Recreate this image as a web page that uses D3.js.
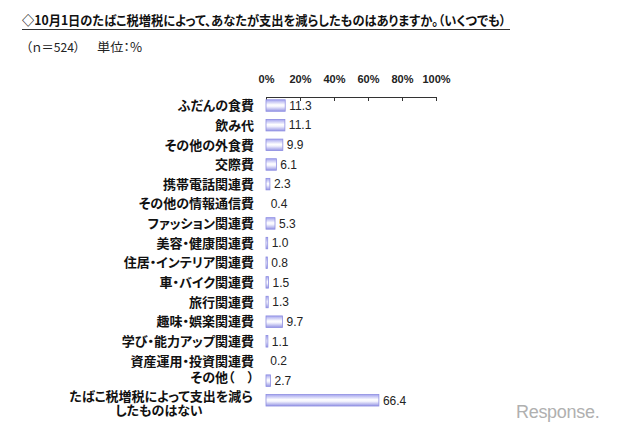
<!DOCTYPE html>
<html><head><meta charset="utf-8">
<script src="https://cdn.jsdelivr.net/npm/d3@7"></script>
<style>
html,body{margin:0;padding:0;background:#fff;}
svg{display:block;}
.jp{font-family:'Noto Sans CJK JP',sans-serif;font-feature-settings:"palt" 1;}
</style></head>
<body>
<script>
const categories = ["ふだんの食費","飲み代","その他の外食費","交際費","携帯電話関連費","その他の情報通信費","ファッション関連費","美容・健康関連費","住居・インテリア関連費","車・バイク関連費","旅行関連費","趣味・娯楽関連費","学び・能力アップ関連費","資産運用・投資関連費","その他（　）","たばこ税増税によって支出を減らしたものはない"];
const values = [11.3,11.1,9.9,6.1,2.3,0.4,5.3,1.0,0.8,1.5,1.3,9.7,1.1,0.2,2.7,66.4];
const tickValues = [0,20,40,60,80,100];
const tickLabels = ["0%","20%","40%","60%","80%","100%"];
const titleText = "◇10月1日のたばこ税増税によって、あなたが支出を減らしたものはありますか。（いくつでも）";
const subtitleN = "（ｎ＝524）";
const subtitleUnit = "単位：%";

const W = 640, H = 435;
const svg = d3.select("body").append("svg").attr("width", W).attr("height", H);

const defs = svg.append("defs");
const grad = defs.append("linearGradient").attr("id","barGrad").attr("x1",0).attr("y1",0).attr("x2",0).attr("y2",1);
grad.append("stop").attr("offset","0%").attr("stop-color","#a4a4ee");
grad.append("stop").attr("offset","45%").attr("stop-color","#ffffff");
grad.append("stop").attr("offset","60%").attr("stop-color","#f2f2fd");
grad.append("stop").attr("offset","100%").attr("stop-color","#9595e4");

const latin = "'Liberation Sans', Arial, sans-serif";

// Title
svg.append("text").attr("class","jp").attr("x",22).attr("y",25)
  .attr("font-weight","bold").attr("font-size",13)
  .attr("textLength",484).attr("lengthAdjust","spacingAndGlyphs")
  .attr("fill","#111").text(titleText);
svg.append("line").attr("x1",22).attr("x2",510).attr("y1",29.5).attr("y2",29.5)
  .attr("stroke","#333").attr("stroke-width",1);

svg.append("text").attr("class","jp").attr("x",26).attr("y",52)
  .attr("font-size",12.5).attr("fill","#222")
  .attr("textLength",54).attr("lengthAdjust","spacingAndGlyphs").text(subtitleN);
svg.append("text").attr("class","jp").attr("x",97).attr("y",52)
  .attr("font-size",12.5).attr("fill","#222")
  .attr("textLength",45).attr("lengthAdjust","spacingAndGlyphs").text(subtitleUnit);

const x = d3.scaleLinear().domain([0,100]).range([266,436]);
const y = d3.scaleBand().domain(categories).range([95.7, 95.7 + 16*19.65]).padding(0);
const barH = 11.5;

// Axis
const axis = d3.axisTop(x).tickValues(tickValues).tickFormat((d,i)=>tickLabels[i])
  .tickSizeInner(-4).tickSizeOuter(0).tickPadding(14);
const ag = svg.append("g").attr("transform","translate(0,97)").call(axis);
ag.select(".domain").attr("stroke","#333");
ag.selectAll(".tick line").attr("stroke","#333");
ag.selectAll(".tick text").attr("font-family",latin).attr("font-weight","bold")
  .attr("font-size",11).attr("fill","#222");

// Bars
svg.append("g").selectAll("rect").data(categories).join("rect")
  .attr("x", x(0))
  .attr("y", d => y(d) + (y.bandwidth()-barH)/2)
  .attr("width", (d,i) => Math.max(0, x(values[i]) - x(0)))
  .attr("height", barH)
  .attr("fill","url(#barGrad)")
  .attr("stroke","#8e8ee2").attr("stroke-width",0.8)
  .attr("opacity", (d,i)=> values[i] < 0.5 ? 0 : 1);

// Value labels
svg.append("g").selectAll("text").data(categories).join("text")
  .attr("x", (d,i) => x(values[i]) + 4)
  .attr("y", d => y(d) + y.bandwidth()/2)
  .attr("dy","0.36em")
  .attr("font-family",latin).attr("font-size",12).attr("fill","#222")
  .text((d,i) => values[i].toFixed(1));

// Category labels
const lg = svg.append("g");
categories.forEach((c,i) => {
  const cy = y(c) + y.bandwidth()/2;
  if (i === categories.length - 1) {
    const t = lg.append("text").attr("class","jp").attr("text-anchor","middle")
      .attr("font-weight","bold").attr("font-size",13).attr("fill","#111");
    t.append("tspan").attr("x",161).attr("y",cy+0.5).text(c.slice(0,15));
    t.append("tspan").attr("x",159).attr("y",cy+14.5).text(c.slice(15));
  } else {
    lg.append("text").attr("class","jp").attr("x",254).attr("y", cy + (i === categories.length-2 ? -3.5 : 0))
      .attr("dy","0.36em").attr("text-anchor","end")
      .attr("font-weight","bold").attr("font-size",13).attr("fill","#111")
      .text(c);
  }
});

// Watermark
svg.append("text").attr("x",516).attr("y",418)
  .attr("font-family",latin).attr("font-size",18).attr("fill","#b0b0b0")
  .attr("letter-spacing","-0.3").text("Response.");
</script>
</body></html>
